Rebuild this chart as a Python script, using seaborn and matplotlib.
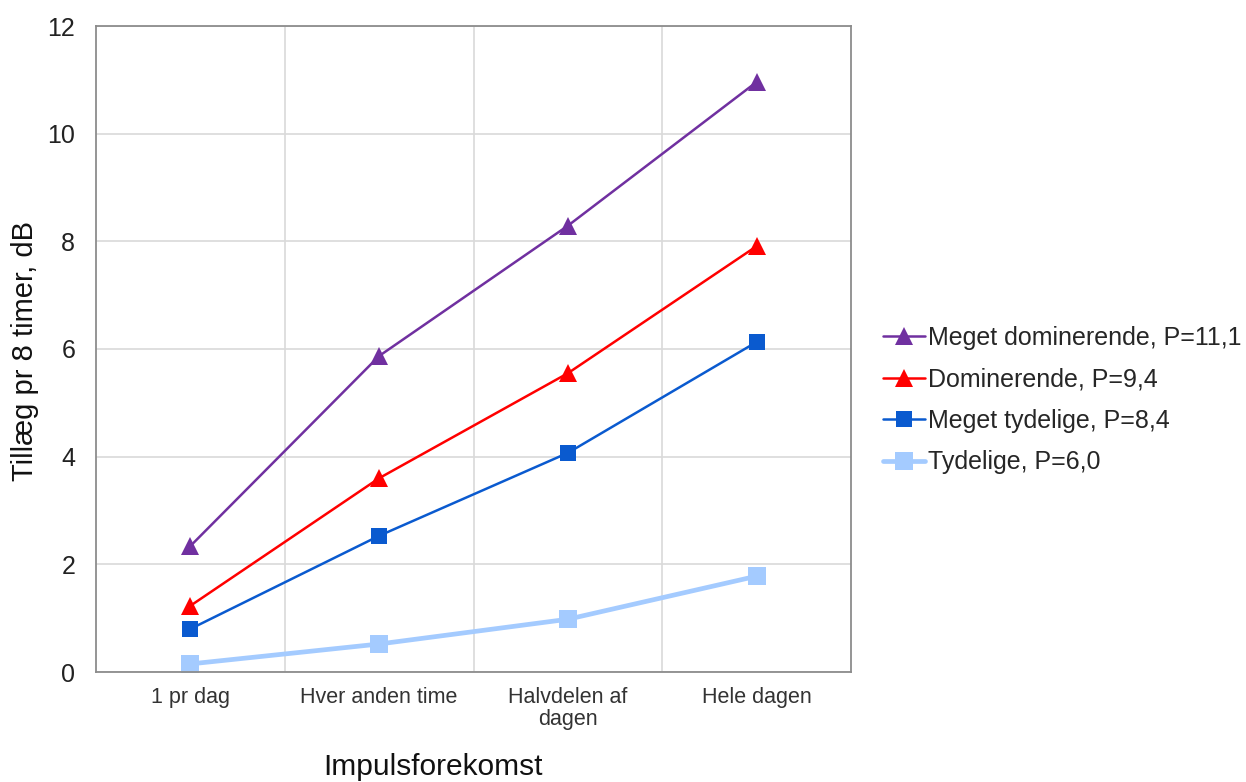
import matplotlib
matplotlib.use("Agg")
import matplotlib.pyplot as plt
import seaborn as sns
import pandas as pd

categories = ["1 pr dag", "Hver anden time", "Halvdelen af\ndagen", "Hele dagen"]
series_names = ["Meget dominerende, P=11,1", "Dominerende, P=9,4",
                "Meget tydelige, P=8,4", "Tydelige, P=6,0"]
meget_dominerende = [2.34, 5.87, 8.29, 10.96]
dominerende = [1.23, 3.60, 5.55, 7.91]
meget_tydelige = [0.80, 2.53, 4.07, 6.13]
tydelige = [0.15, 0.52, 0.98, 1.78]
yticks = [0, 2, 4, 6, 8, 10, 12]

colors = ["#7030A0", "#FF0000", "#0A5ACF", "#A4CBFF"]
markers = ["^", "^", "s", "s"]
msizes = [13, 13, 11, 13]
lwidths = [1.8, 1.8, 1.8, 3.4]

sns.set_style("white")
plt.rcParams["font.family"] = ["Liberation Sans", "DejaVu Sans"]

fig = plt.figure(figsize=(12.46, 7.82), dpi=100)
ax = fig.add_axes([96/1246, 110/782, 755/1246, 646/782])

values = [meget_dominerende, dominerende, meget_tydelige, tydelige]
for name, vals, c, m, ms, lw in zip(series_names, values, colors, markers, msizes, lwidths):
    df = pd.DataFrame({"x": list(range(len(categories))), "y": vals})
    sns.lineplot(data=df, x="x", y="y", ax=ax, color=c, marker=m, markersize=ms,
                 markeredgewidth=0, linewidth=lw, label=name)

ax.set_xlim(-0.5, len(categories) - 0.5)
ax.set_ylim(0, 12)
ax.set_yticks(yticks)
ax.set_yticklabels([str(v) for v in yticks], fontsize=18)
ax.set_xticks(range(len(categories)))
ax.set_xticklabels(categories, fontsize=15.5, color="#333333", linespacing=1.05)
ax.tick_params(axis="y", length=0, pad=15, colors="#222222")
ax.tick_params(axis="x", length=0, pad=11)
ax.set_xticks([0.5, 1.5, 2.5], minor=True)
ax.tick_params(axis="x", which="minor", length=0)
ax.grid(False)
ax.grid(True, axis="y", which="major", color="#D9D9D9", linewidth=1.2)
ax.grid(True, axis="x", which="minor", color="#D9D9D9", linewidth=1.2)
for sp in ax.spines.values():
    sp.set_color("#8C8C8C")
    sp.set_linewidth(1.3)

ax.set_ylabel("Tillæg pr 8 timer, dB", fontsize=21, color="#111111")
ax.yaxis.set_label_coords(-0.076, 0.497)
ax.set_xlabel("Impulsforekomst", fontsize=21.5, color="#111111")
ax.xaxis.set_label_coords(0.447, -0.126)

leg = ax.legend(loc="center left", bbox_to_anchor=(1.042, 0.421), frameon=False,
                fontsize=18, handlelength=1.7, handletextpad=0.12, labelspacing=0.7,
                borderaxespad=0, borderpad=0)

fig.savefig("out.png", dpi=100)
